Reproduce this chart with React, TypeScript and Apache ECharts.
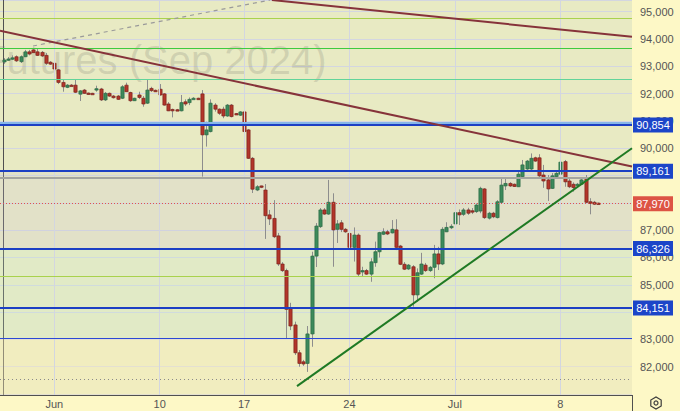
import { useEffect, useRef } from "react";
import * as echarts from "echarts";

// ---- candle data (4h bars, index 0 = last bars of May) ----
const opens = [
  93160, 93230, 93290, 93350, 93170, 93350, 93530, 93600, 93530, 93510,
  93400, 93150, 93110, 92870, 92410, 92230, 92310, 92310, 91980, 92130,
  92020, 92010, 92160, 92170, 91770, 92010, 91910, 91910, 91830, 92310,
  92040, 91740, 91950, 91830, 91650, 92190, 92120, 92160, 91990, 91620,
  91420, 91410, 91370, 91700, 91670, 91810, 91830, 91990, 90490, 90610,
  91580, 91430, 91430, 91180, 91580, 91270, 91210, 91330, 90670, 89630,
  88470, 88620, 88470, 87560, 87430, 86790, 85760, 85520, 84120, 83530,
  82510, 82180, 82120, 83200, 86050, 87130, 87740, 87590, 88020, 87030,
  87270, 87030, 86880, 86370, 86820, 85500, 85520, 85390, 85810, 86210,
  86850, 86940, 86900, 87010, 86420, 85750, 85580, 85660, 84630, 85390,
  85720, 85520, 85640, 86130, 85760, 86940, 87110, 87230, 87640, 87580,
  87740, 87710, 87680, 87700, 88510, 87440, 87620, 87460, 88020, 88620,
  88710, 88680, 88590, 88960, 89240, 89240, 89650, 89650, 89020, 88840,
  88530, 88960, 89050, 89510, 88800, 88680, 88630, 88680, 88920, 88040,
  88020, 87990,
];
const closes = [
  93230, 93270, 93310, 93200, 93350, 93530, 93450, 93500, 93400, 93380,
  93110, 93080, 92900, 92410, 92250, 92310, 92290, 92050, 92100, 92010,
  91990, 91990, 92180, 91770, 92010, 91910, 91850, 91790, 92250, 92070,
  91740, 91830, 91860, 91620, 92130, 92110, 92100, 91950, 91580, 91370,
  91370, 91390, 91670, 91620, 91790, 91830, 91800, 90490, 90670, 91650,
  91430, 91280, 91180, 91580, 91160, 91240, 91330, 90610, 89630, 88500,
  88590, 88570, 87530, 87410, 86760, 85760, 85520, 84100, 83490, 82510,
  82120, 82100, 83200, 86050, 87150, 87740, 87590, 88020, 87010, 87230,
  87030, 86940, 86370, 86820, 85390, 85520, 85390, 85840, 86210, 86910,
  86940, 86860, 87030, 86370, 85750, 85570, 85720, 84630, 85440, 85760,
  85520, 85640, 86130, 85760, 87030, 87100, 87140, 87640, 87560, 87740,
  87620, 87690, 87920, 88530, 87460, 87620, 87490, 88040, 88650, 88710,
  88620, 88600, 89050, 89390, 89530, 89630, 89530, 88990, 88800, 88510,
  88990, 89080, 89490, 88770, 88590, 88560, 88680, 88840, 88020, 87980,
  87950, 87970,
];
const lows = [
  93090, 93200, 93230, 93160, 93120, 93340, 93400, 93490, 93380, 93340,
  93050, 93050, 92580, 92350, 92070, 92200, 92270, 92020, 91730, 91990,
  91960, 91970, 92070, 91730, 91730, 91880, 91820, 91770, 91800, 92060,
  91700, 91730, 91800, 91520, 91620, 92060, 92060, 91920, 91560, 91360,
  91130, 91360, 91350, 91550, 91580, 91790, 91780, 88960, 90060, 90580,
  91340, 91220, 91100, 91150, 91130, 91220, 91180, 90490, 89610, 88360,
  88430, 88540, 86680, 87190, 86710, 85690, 85470, 83020, 83340, 82430,
  82000, 82030, 81810, 82730, 85650, 87080, 87560, 87560, 85660, 86530,
  86930, 86900, 85480, 85850, 85320, 85320, 85360, 85110, 85660, 86000,
  86820, 86820, 86880, 86270, 85720, 85540, 85540, 84200, 84380, 85360,
  85470, 85470, 85240, 85540, 85720, 86930, 87040, 86880, 87190, 87520,
  87560, 87590, 87630, 87620, 87410, 87390, 87440, 87430, 87990, 88470,
  88580, 88580, 88580, 88910, 89140, 89200, 89500, 88910, 88550, 88070,
  88510, 88910, 89020, 88590, 88540, 88410, 88580, 88650, 87990, 87580,
  87920, 87940,
];
const highs = [
  93300, 93340, 93400, 93400, 93400, 93600, 93600, 93680, 93630, 93560,
  93490, 93190, 93930, 92900, 92500, 92350, 92350, 92530, 92130, 92170,
  92040, 92030, 92290, 92210, 92060, 92040, 91950, 91950, 92310, 92400,
  92070, 91850, 92070, 91910, 92500, 92250, 92150, 92350, 92020, 91690,
  91450, 91440, 91950, 91790, 91860, 91870, 91850, 92130, 90970, 91790,
  91650, 91460, 91520, 91620, 91620, 91290, 91360, 91400, 90700, 89680,
  88650, 88630, 88690, 87740, 88100, 86900, 85830, 85590, 84340, 83650,
  82610, 82250, 83490, 86210, 87260, 87810, 87810, 88840, 88350, 87370,
  87370, 87080, 87640, 87100, 86880, 85660, 85580, 85970, 86580, 86940,
  87070, 87010, 87370, 87400, 86460, 85830, 85760, 85720, 85600, 86170,
  85800, 85690, 86460, 86390, 87110, 87290, 87220, 87800, 87760, 87810,
  87820, 87810, 87980, 88590, 88540, 87670, 87670, 88100, 88900, 88920,
  88760, 88710, 89140, 89570, 89570, 89810, 89690, 89780, 89390, 89020,
  89090, 89130, 89610, 89570, 88910, 88750, 88730, 88910, 89020, 88170,
  88070, 88010,
];

// ---- axis ticks ----
const dateTickIndex = [12, 37, 57, 82, 107, 132];
const dateTickLabels = ["Jun", "10", "17", "24", "Jul", "8"];
const hiddenPriceLabels = [89000, 88000, 84000];

// ---- drawn levels ----
const badgeLevels = [90854, 89161, 87970, 86326, 84151];
const blueLevels = [90854, 89161, 86326, 84151];
const lastPrice = 87970;
const lightBlueLevel = 90940;
const grayLevel = 88930;
const yellowGreenLevels = [94760, 85300];
const greenLevel = 93660;
const mintLevel = 92530;
const thinBlueLevel = 83040;
const dottedLevel = 81540;

// ---- trend lines [index, price] ----
const resistA = [[-0.87, 94300], [149.0, 89330]];
const resistB = [[63.6, 95428], [149.0, 94080]];
const dashedRay = [[6.96, 93744], [63.2, 95428]];
const supportLine = [[69.56, 81290], [149.0, 90000]];

// ---- shaded zones [from, to] ----
const zoneGray = [89161, 86326];
const zoneGreen = [86326, 83040];
const zoneYellow = [83040, 80964];

const X_MIN = -0.87;
const X_MAX = 149.0;
const Y_MIN = 80964;
const Y_MAX = 95428;

const FONT = '"Liberation Sans", Arial, sans-serif';

export default function App() {
  const ref = useRef<HTMLDivElement>(null);

  useEffect(() => {
    if (!ref.current) return;
    const chart = echarts.init(ref.current, undefined, { renderer: "svg" });

    const candleData = opens.map((o, i) => [i, o, closes[i], lows[i], highs[i]]);
    const fmt = (v: number) => v.toLocaleString("en-US");
    const hl = (v: number, color: string, width: number, type: any = "solid") => ({
      yAxis: v,
      lineStyle: { color, width, type },
    });
    const seg = (pts: number[][], color: string, width: number, type: any = "solid") => [
      { coord: pts[0], lineStyle: { color, width, type } },
      { coord: pts[1] },
    ];

    const option: any = {
      animation: false,
      backgroundColor: "#fdf8c6",
      grid: {
        left: 0,
        right: 48,
        top: 0,
        bottom: 16,
        show: true,
        backgroundColor: "#e8eac3",
        borderWidth: 0,
      },
      xAxis: {
        type: "value",
        min: X_MIN,
        max: X_MAX,
        axisLine: { show: true, lineStyle: { color: "#505050", width: 1 } },
        axisTick: { show: false },
        splitLine: { show: false },
        axisLabel: {
          customValues: dateTickIndex,
          color: "#555",
          fontSize: 11,
          fontFamily: FONT,
          margin: 3,
          formatter: (v: number) => {
            const k = dateTickIndex.indexOf(Math.round(v));
            return k >= 0 ? dateTickLabels[k] : "";
          },
        },
      },
      yAxis: {
        type: "value",
        position: "right",
        min: Y_MIN,
        max: Y_MAX,
        splitNumber: 14,
        axisLine: { show: true, lineStyle: { color: "#505050", width: 1 } },
        axisTick: { show: false },
        splitLine: { show: true, lineStyle: { color: "#d3d6e0", width: 1 } },
        axisLabel: {
          color: "#555",
          fontSize: 11,
          fontFamily: FONT,
          margin: 8,
          formatter: (v: number) =>
            v % 1000 === 0 && v >= 82000 && hiddenPriceLabels.indexOf(v) < 0 ? fmt(v) : "",
        },
      },
      graphic: [
        {
          type: "text",
          x: -18,
          y: 40,
          z: 1,
          silent: true,
          style: {
            text: "Futures (Sep 2024)",
            font: `40px ${FONT}`,
            fill: "rgba(120,120,110,0.22)",
          },
        },
        {
          type: "line",
          shape: { x1: 632.5, y1: 395, x2: 632.5, y2: 411 },
          style: { stroke: "#505050", lineWidth: 1 },
        },
        {
          type: "polygon",
          shape: {
            points: [0, 1, 2, 3, 4, 5].map((k) => {
              const a = (Math.PI / 3) * k + Math.PI / 6;
              return [656 + 6 * Math.cos(a), 403 + 6 * Math.sin(a)];
            }),
          },
          style: { fill: "none", stroke: "#3c3c3c", lineWidth: 1.2 },
        },
        {
          type: "circle",
          shape: { cx: 656, cy: 403, r: 2 },
          style: { fill: "none", stroke: "#3c3c3c", lineWidth: 1.2 },
        },
      ],
      series: [
        {
          type: "line",
          data: [],
          z: 1,
          silent: true,
          markArea: {
            silent: true,
            label: { show: false },
            data: [
              [{ yAxis: zoneGray[0], itemStyle: { color: "rgba(205,195,220,0.22)" } }, { yAxis: zoneGray[1] }],
              [{ yAxis: zoneGreen[0], itemStyle: { color: "rgba(200,238,210,0.22)" } }, { yAxis: zoneGreen[1] }],
              [{ yAxis: zoneYellow[0], itemStyle: { color: "rgba(255,242,185,0.38)" } }, { yAxis: zoneYellow[1] }],
            ],
          },
          markLine: {
            silent: true,
            symbol: ["none", "none"],
            label: { show: false },
            data: [
              ...dateTickIndex.map((v) => ({ xAxis: v, lineStyle: { color: "#d3d6e0", width: 1, type: "solid" } })),
              hl(yellowGreenLevels[0], "#a9d24c", 1),
              hl(greenLevel, "#3ecb3e", 1),
              hl(mintLevel, "#62d49a", 1),
              hl(lightBlueLevel, "#86b6e8", 2),
              hl(grayLevel, "#a4a4a0", 2),
              hl(yellowGreenLevels[1], "#a9d24c", 1),
              hl(thinBlueLevel, "#2b48d6", 1),
              hl(dottedLevel, "#8a8a8a", 1, [1, 3]),
              ...blueLevels.map((v) => hl(v, "#1c3fc4", 2)),
              hl(lastPrice, "#e0574a", 1, [1, 2]),
            ],
          },
        },
        {
          type: "custom",
          z: 3,
          silent: true,
          data: candleData,
          encode: { x: 0, y: [1, 2, 3, 4] },
          renderItem: (params: any, api: any) => {
            const i = api.value(0);
            const o = api.value(1);
            const c = api.value(2);
            const l = api.value(3);
            const h = api.value(4);
            const po = api.coord([i, o]);
            const pc = api.coord([i, c]);
            const pl = api.coord([i, l]);
            const ph = api.coord([i, h]);
            const cx = Math.round(po[0]) + 0.5;
            const top = Math.min(po[1], pc[1]);
            const bot = Math.max(po[1], pc[1]);
            const up = c >= o;
            return {
              type: "group",
              children: [
                {
                  type: "line",
                  shape: { x1: cx, y1: ph[1], x2: cx, y2: pl[1] },
                  style: { stroke: "#8d8d8d", lineWidth: 1 },
                },
                {
                  type: "rect",
                  shape: { x: cx - 1.6, y: top, width: 3.2, height: Math.max(bot - top, 1.4) },
                  style: {
                    fill: up ? "#3c8a5b" : "#b3352a",
                    stroke: up ? "#2a6843" : "#7a221b",
                    lineWidth: 0.7,
                  },
                },
              ],
            };
          },
        },
        {
          type: "line",
          data: [],
          z: 4,
          silent: true,
          markLine: {
            silent: true,
            symbol: ["none", "none"],
            label: { show: false },
            data: [
              seg(dashedRay, "#9a9a9a", 1.2, [4, 4]),
              seg(resistA, "#86333a", 2),
              seg(resistB, "#86333a", 2),
              seg(supportLine, "#1f7a24", 2),
            ],
          },
        },
        {
          type: "line",
          data: [],
          z: 10,
          silent: true,
          markPoint: {
            silent: true,
            symbol: "rect",
            symbolSize: [40, 15],
            symbolOffset: [21, 0],
            label: {
              show: true,
              position: "inside",
              color: "#ffffff",
              fontSize: 11,
              fontFamily: FONT,
              formatter: (p: any) => fmt(p.value),
            },
            data: badgeLevels.map((v) => ({
              coord: [X_MAX, v],
              value: v,
              itemStyle: { color: v === lastPrice ? "#dd5444" : "#1c45c8" },
            })),
          },
        },
      ],
    };

    chart.setOption(option);
    return () => chart.dispose();
  }, []);

  return (
    <div
      ref={ref}
      style={{ position: "fixed", left: 0, top: 0, width: 680, height: 411 }}
    />
  );
}
